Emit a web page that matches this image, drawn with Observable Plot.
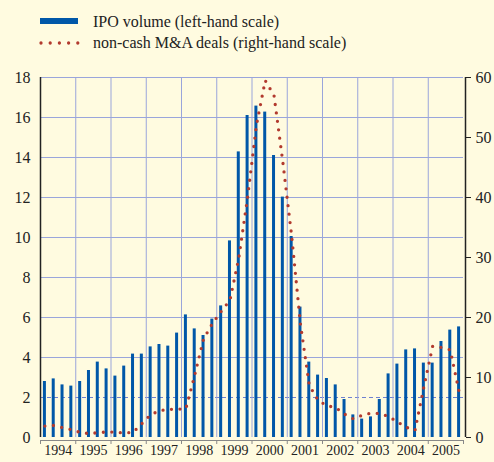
<!DOCTYPE html>
<html>
<head>
<meta charset="utf-8">
<script src="https://cdn.jsdelivr.net/npm/d3@7"></script>
<script src="https://cdn.jsdelivr.net/npm/@observablehq/plot@0.6"></script>
<style>
  html, body { margin: 0; padding: 0; background: #fffbe0; }
  #wrap { width: 494px; height: 462px; position: relative; overflow: hidden; background: #fffbe0; }
  #legend { position: relative; height: 60px; font-family: "Liberation Serif", serif; font-size: 16px; color: #222; }
  #legend .t { position: absolute; left: 93px; line-height: 20px; white-space: nowrap; }
</style>
</head>
<body>
<div id="wrap">
  <div id="legend">
    <div style="position:absolute;left:40px;top:18px;width:38px;height:6px;background:#0057a8"></div>
    <div class="t" style="top:11.5px">IPO volume (left-hand scale)</div>
    <svg style="position:absolute;left:38px;top:38px" width="44" height="10"><line x1="3" x2="40" y1="5" y2="5" stroke="#b23a2e" stroke-width="3.3" stroke-dasharray="0 9.2" stroke-linecap="round"/></svg>
    <div class="t" style="top:33px">non-cash M&amp;A deals (right-hand scale)</div>
  </div>
  <div id="chart"></div>
</div>
<script>
const years = [1994, 1995, 1996, 1997, 1998, 1999, 2000, 2001, 2002, 2003, 2004, 2005];
const leftTicks = [0, 2, 4, 6, 8, 10, 12, 14, 16, 18];
const rightTicks = [0, 10, 20, 30, 40, 50, 60];

// IPO volume, quarterly (left-hand scale)
const ipoVolume = [
  2.8, 2.93, 2.63, 2.57,
  2.8, 3.35, 3.77, 3.43,
  3.07, 3.57, 4.17, 4.17,
  4.53, 4.65, 4.57, 5.22,
  6.13, 5.43, 5.1, 5.92,
  6.58, 9.83, 14.28, 16.1,
  16.57, 16.27, 14.1, 12.02,
  10.05, 6.52, 3.77, 3.12,
  2.95, 2.63, 1.9, 1.13,
  0.92, 1.03, 1.9, 3.18,
  3.67, 4.38, 4.43, 3.72,
  3.72, 4.8, 5.37, 5.53
];

// non-cash M&A deals, quarterly (right-hand scale)
const mnaDeals = [
  1.9, 2.0, 1.65, 1.3,
  0.85, 0.65, 0.8, 0.92,
  0.88, 0.75, 0.85, 2.3,
  3.8, 4.45, 4.7, 4.7,
  4.8, 10.4, 16.4, 19.0,
  21.0, 22.9, 29.9, 40.0,
  52.0, 59.5, 57.0, 45.9,
  33.6, 18.9, 8.7, 6.2,
  5.3, 5.0, 3.9, 3.1,
  3.7, 4.05, 4.0, 3.5,
  2.6, 1.7, 1.2, 8.4,
  15.2, 15.0, 14.6, 7.6
];

const data = ipoVolume.map((v, i) => ({ i, ipo: v, mna: mnaDeals[i] }));
const grid = "#9aa5db";
const r2l = v => v * 18 / 60;

const chart = Plot.plot({
  width: 494,
  height: 402,
  marginTop: 17,
  marginBottom: 25,
  marginLeft: 40,
  marginRight: 31,
  x: { domain: [0, years.length * 4], axis: null },
  y: { domain: [0, 18], axis: null },
  style: { background: "transparent", fontFamily: "'Liberation Serif', serif", fontSize: "15px", color: "#222" },
  marks: [
    Plot.ruleY(leftTicks.filter(d => d >= 4), { stroke: grid, strokeWidth: 1 }),
    Plot.ruleY([2], { stroke: "#6f80d0", strokeWidth: 1, strokeDasharray: "4,3" }),
    Plot.ruleX(years.slice(1).map((y, k) => (k + 1) * 4), { stroke: grid, strokeWidth: 1 }),
    Plot.rectY(data, { x1: d => d.i + 0.33, x2: d => d.i + 0.67, y: "ipo", fill: "#0057a8" }),
    Plot.line(data, {
      x: d => d.i + 0.5, y: d => r2l(d.mna),
      stroke: "#b23a2e", strokeWidth: 3.3, strokeDasharray: "0 8.5", strokeLinecap: "round"
    }),
    Plot.ruleX([0], { stroke: "#222", strokeWidth: 1.5 }),
    Plot.ruleX([years.length * 4], { stroke: "#222", strokeWidth: 1.5, dx: 2 }),
    Plot.ruleY([0], { x1: 0, x2: years.length * 4, stroke: "#888", dy: 3 }),
    Plot.axisY({ anchor: "left", label: null, ticks: leftTicks, tickSize: 0, tickPadding: 10, fontSize: 16 }),
    Plot.axisY({ anchor: "right", label: null, ticks: rightTicks.map(r2l), tickFormat: d => String(Math.round(d * 60 / 18)),
      tickSize: 5, tickPadding: 5, dx: 2, fontSize: 16, stroke: "#222" }),
    Plot.axisX({ label: null, ticks: years.map((y, k) => k * 4).concat([years.length * 4]), tickFormat: () => "",
      tickSize: 4, stroke: "#888", dy: 3 }),
    Plot.axisX({ label: null, ticks: years.map((y, k) => k * 4 + 2), tickFormat: d => String(years[Math.round((d - 2) / 4)]),
      tickSize: 0, tickPadding: 8, fontSize: 14 })
  ]
});
document.getElementById("chart").appendChild(chart);
</script>
</body>
</html>
